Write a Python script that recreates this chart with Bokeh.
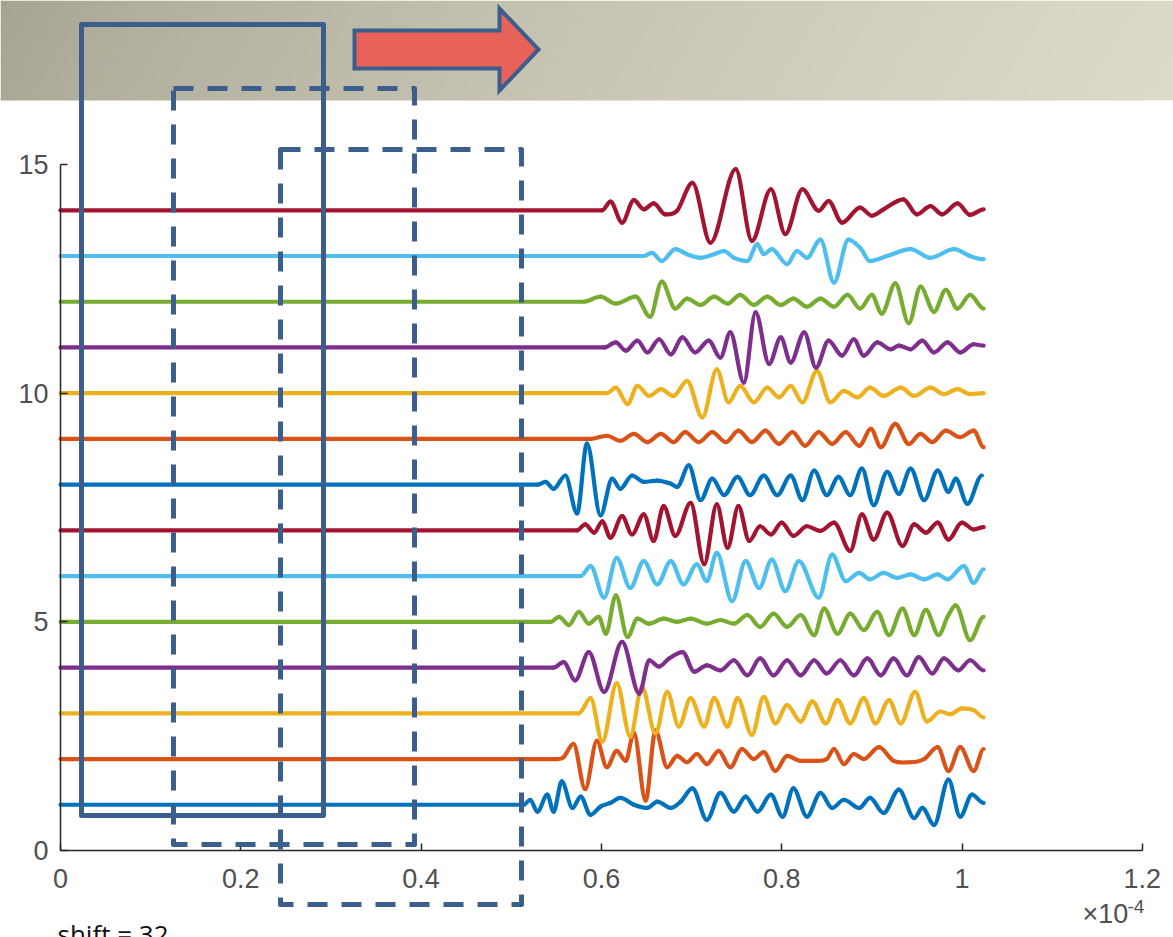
import numpy as np
from bokeh.plotting import figure
from bokeh.models import (Range1d, FixedTicker, BoxAnnotation, PolyAnnotation, Label,
                          ColumnDataSource)
from bokeh.embed import file_html
from bokeh.resources import INLINE

# ---------------------------------------------------------------------------
# Data: 14 shifted traces.  Time is in units of 1e-4 s (axis shows "x 10^-4"),
# amplitude is relative to each trace's baseline (trace k sits at y = k).
# Each trace is flat from t = 0 up to its first listed time.
# ---------------------------------------------------------------------------
t01 = [0.514, 0.521, 0.529, 0.540, 0.547, 0.556, 0.568, 0.577, 0.588, 0.599, 0.610, 0.621, 0.636, 0.651,
       0.662, 0.677, 0.688, 0.701, 0.717, 0.732, 0.747, 0.760, 0.773, 0.788, 0.801, 0.813, 0.828, 0.843,
       0.856, 0.869, 0.886, 0.898, 0.913, 0.930, 0.947, 0.956, 0.969, 0.985, 0.998, 1.011, 1.024]
a01 = [0, 0.11, -0.15, 0.22, -0.15, 0.51, -0.07, 0.18, -0.22, -0.04, 0.04, 0.15, 0, -0.07,
       0.07, -0.07, 0.07, 0.36, -0.33, 0.26, -0.15, 0.18, -0.15, 0.22, -0.26, 0.36, -0.26, 0.26,
       -0.07, 0.11, -0.07, 0.15, -0.18, 0.33, -0.29, -0.07, -0.44, 0.55, -0.26, 0.22, 0.04]

t02 = [0.551, 0.558, 0.569, 0.582, 0.595, 0.606, 0.617, 0.627, 0.636, 0.649, 0.660, 0.673, 0.684, 0.695,
       0.706, 0.717, 0.730, 0.743, 0.756, 0.769, 0.780, 0.793, 0.806, 0.821, 0.836, 0.850, 0.858, 0.869,
       0.880, 0.891, 0.908, 0.924, 0.943, 0.958, 0.973, 0.985, 0.998, 1.013, 1.024]
a02 = [0, 0.04, 0.33, -0.66, 0.40, -0.18, 0.18, -0.04, 0.58, -0.91, 0.62, -0.18, 0.07, -0.07,
       0.11, -0.11, 0.18, -0.18, 0.22, 0, 0.15, -0.26, 0.07, -0.04, -0.04, 0, 0.22, -0.11,
       0.11, 0, 0.26, -0.04, -0.07, 0, 0.26, -0.26, 0.26, -0.26, 0.22]

t03 = [0.575, 0.588, 0.601, 0.617, 0.632, 0.645, 0.660, 0.673, 0.686, 0.699, 0.714, 0.725, 0.740, 0.751,
       0.767, 0.780, 0.793, 0.806, 0.821, 0.834, 0.849, 0.862, 0.876, 0.891, 0.904, 0.919, 0.932, 0.948,
       0.961, 0.976, 0.987, 1.000, 1.013, 1.024]
a03 = [0, 0.33, -0.62, 0.66, -0.51, 0.58, -0.44, 0.47, -0.29, 0.33, -0.29, 0.33, -0.29, 0.33,
       -0.47, 0.36, -0.22, 0.18, -0.18, 0.26, -0.22, 0.29, -0.22, 0.33, -0.22, 0.29, -0.22, 0.47,
       -0.18, 0.04, -0.02, 0.11, 0.07, -0.09]

t04 = [0.547, 0.558, 0.571, 0.586, 0.603, 0.623, 0.642, 0.653, 0.664, 0.675, 0.690, 0.703, 0.717, 0.732,
       0.747, 0.762, 0.776, 0.791, 0.806, 0.821, 0.836, 0.850, 0.865, 0.880, 0.895, 0.910, 0.924, 0.939,
       0.952, 0.967, 0.980, 0.996, 1.009, 1.024]
a04 = [0, 0.12, -0.28, 0.34, -0.53, 0.56, -0.57, 0.16, 0.02, 0.20, 0.34, -0.09, 0.05, -0.06,
       0.16, -0.17, 0.20, -0.17, 0.16, -0.17, 0.16, -0.13, 0.16, -0.17, 0.20, -0.17, 0.20, -0.17,
       0.23, -0.13, 0.20, -0.06, 0.16, -0.06]

t05 = [0.544, 0.553, 0.564, 0.575, 0.586, 0.597, 0.605, 0.616, 0.629, 0.640, 0.653, 0.669, 0.684, 0.699,
       0.717, 0.732, 0.747, 0.762, 0.776, 0.791, 0.806, 0.821, 0.836, 0.847, 0.862, 0.876, 0.891, 0.906,
       0.919, 0.934, 0.947, 0.960, 0.974, 0.984, 0.993, 1.009, 1.024]
a05 = [0, 0.11, -0.07, 0.22, -0.04, 0.11, -0.26, 0.58, -0.33, 0.07, -0.04, 0.07, 0, 0.07,
       -0.04, 0.04, -0.04, 0.15, -0.11, 0.18, -0.11, 0.15, -0.29, 0.29, -0.26, 0.18, -0.18, 0.22,
       -0.29, 0.29, -0.29, 0.26, -0.29, 0.11, 0.36, -0.40, 0.11]

t06 = [0.577, 0.588, 0.603, 0.617, 0.632, 0.647, 0.662, 0.677, 0.691, 0.706, 0.717, 0.728, 0.745, 0.760,
       0.775, 0.789, 0.804, 0.819, 0.841, 0.856, 0.871, 0.886, 0.898, 0.913, 0.928, 0.943, 0.958, 0.973,
       0.984, 1.002, 1.013, 1.024]
a06 = [0, 0.22, -0.47, 0.40, -0.26, 0.33, -0.18, 0.33, -0.18, 0.26, -0.11, 0.51, -0.55, 0.33,
       -0.26, 0.36, -0.33, 0.33, -0.47, 0.47, -0.11, 0.07, -0.07, 0.07, -0.04, 0.04, -0.07, 0.04,
       -0.07, 0.22, -0.15, 0.15]

t07 = [0.573, 0.582, 0.592, 0.601, 0.610, 0.623, 0.634, 0.647, 0.658, 0.669, 0.682, 0.699, 0.714, 0.728,
       0.740, 0.752, 0.764, 0.776, 0.788, 0.800, 0.813, 0.828, 0.843, 0.858, 0.876, 0.889, 0.902, 0.917,
       0.934, 0.947, 0.960, 0.973, 0.985, 1.000, 1.013, 1.024]
a07 = [0, 0.13, -0.05, 0.20, -0.16, 0.31, -0.09, 0.35, -0.23, 0.53, -0.12, 0.60, -0.74, 0.57,
       -0.38, 0.53, -0.23, 0.09, -0.09, 0.17, -0.12, 0.09, -0.01, 0.17, -0.45, 0.35, -0.20, 0.39,
       -0.34, 0.13, -0.05, 0.17, -0.20, 0.17, 0.02, 0.07]

t08 = [0.529, 0.538, 0.547, 0.560, 0.573, 0.584, 0.599, 0.612, 0.621, 0.634, 0.647, 0.662, 0.677, 0.684,
       0.697, 0.710, 0.723, 0.736, 0.751, 0.765, 0.780, 0.795, 0.810, 0.823, 0.836, 0.850, 0.863, 0.876,
       0.889, 0.902, 0.917, 0.930, 0.943, 0.958, 0.973, 0.985, 0.993, 1.006, 1.022]
a08 = [0, 0.06, -0.09, 0.20, -0.63, 0.90, -0.67, 0.13, -0.09, 0.20, 0.06, 0.09, 0.02, -0.05,
       0.42, -0.34, 0.13, -0.23, 0.17, -0.23, 0.20, -0.23, 0.20, -0.34, 0.31, -0.23, 0.17, -0.23,
       0.35, -0.45, 0.28, -0.20, 0.35, -0.34, 0.31, -0.16, 0.13, -0.42, 0.20]

t09 = [0.588, 0.606, 0.621, 0.636, 0.651, 0.666, 0.680, 0.693, 0.708, 0.723, 0.738, 0.752, 0.767, 0.782,
       0.797, 0.812, 0.826, 0.841, 0.856, 0.871, 0.886, 0.899, 0.910, 0.926, 0.941, 0.954, 0.967, 0.982,
       0.998, 1.013, 1.024]
a09 = [0, 0.07, -0.04, 0.11, -0.07, 0.11, -0.07, 0.15, -0.07, 0.15, -0.07, 0.18, -0.07, 0.18,
       -0.11, 0.15, -0.15, 0.15, -0.11, 0.15, -0.15, 0.22, -0.18, 0.33, -0.11, 0.11, -0.07, 0.18,
       0.04, 0.18, -0.18]

t10 = [0.606, 0.616, 0.629, 0.640, 0.653, 0.666, 0.680, 0.695, 0.712, 0.728, 0.741, 0.754, 0.769, 0.784,
       0.797, 0.810, 0.823, 0.839, 0.854, 0.869, 0.884, 0.898, 0.913, 0.932, 0.947, 0.965, 0.980, 0.995,
       1.009, 1.024]
a10 = [0, 0.12, -0.24, 0.16, -0.06, 0.09, -0.06, 0.27, -0.53, 0.52, -0.20, 0.16, -0.20, 0.12,
       -0.09, 0.16, -0.20, 0.49, -0.20, 0.05, -0.09, 0.12, -0.06, 0.12, -0.06, 0.12, -0.02, 0.09,
       -0.02, 0]

t11 = [0.603, 0.616, 0.627, 0.640, 0.651, 0.664, 0.677, 0.690, 0.704, 0.719, 0.732, 0.743, 0.758, 0.771,
       0.786, 0.799, 0.810, 0.825, 0.838, 0.852, 0.867, 0.880, 0.891, 0.906, 0.921, 0.930, 0.943, 0.956,
       0.969, 0.984, 0.998, 1.013, 1.024]
a11 = [0, 0.11, -0.07, 0.15, -0.11, 0.18, -0.15, 0.22, -0.11, 0.15, -0.22, 0.33, -0.77, 0.77,
       -0.36, 0.22, -0.33, 0.33, -0.44, 0.15, -0.18, 0.18, -0.18, 0.11, -0.04, 0.04, -0.04, 0.15,
       -0.11, 0.11, -0.11, 0.07, 0.04]

t12 = [0.580, 0.599, 0.616, 0.638, 0.654, 0.667, 0.682, 0.695, 0.710, 0.725, 0.740, 0.754, 0.769, 0.784,
       0.799, 0.813, 0.828, 0.843, 0.858, 0.873, 0.887, 0.900, 0.911, 0.926, 0.941, 0.954, 0.969, 0.982,
       0.995, 1.009, 1.024]
a12 = [0, 0.11, -0.04, 0.11, -0.33, 0.44, -0.15, 0.07, -0.07, 0.11, -0.04, 0.15, -0.07, 0.11,
       -0.07, 0.07, -0.11, 0.07, -0.11, 0.15, -0.15, 0.15, -0.26, 0.40, -0.47, 0.33, -0.22, 0.26,
       -0.15, 0.15, -0.15]

t13 = [0.647, 0.656, 0.667, 0.682, 0.695, 0.710, 0.725, 0.736, 0.747, 0.762, 0.773, 0.780, 0.789, 0.806,
       0.817, 0.828, 0.843, 0.858, 0.874, 0.887, 0.898, 0.917, 0.943, 0.965, 0.991, 1.009, 1.024]
a13 = [0, 0.07, -0.11, 0.15, 0.04, -0.04, 0.04, 0.11, -0.04, -0.11, 0.26, 0.04, 0.15, -0.18,
       0.11, -0.04, 0.36, -0.58, 0.36, 0.18, -0.11, 0, 0.15, -0.04, 0.15, 0, -0.07]

t14 = [0.601, 0.610, 0.623, 0.636, 0.647, 0.658, 0.671, 0.684, 0.701, 0.721, 0.749, 0.767, 0.788, 0.804,
       0.823, 0.841, 0.852, 0.867, 0.887, 0.900, 0.913, 0.935, 0.950, 0.965, 0.978, 0.995, 1.009, 1.024]
a14 = [0, 0.19, -0.27, 0.22, 0.02, 0.15, -0.09, -0.01, 0.60, -0.71, 0.90, -0.67, 0.46, -0.52,
       0.46, -0.01, 0.20, -0.27, 0.06, -0.12, 0.02, 0.24, -0.09, 0.09, -0.09, 0.15, -0.10, 0.02]

trace_times = [t01, t02, t03, t04, t05, t06, t07, t08, t09, t10, t11, t12, t13, t14]
trace_amps = [a01, a02, a03, a04, a05, a06, a07, a08, a09, a10, a11, a12, a13, a14]

x_ticks = [0, 0.2, 0.4, 0.6, 0.8, 1, 1.2]
x_tick_labels = ["0", "0.2", "0.4", "0.6", "0.8", "1", "1.2"]
y_ticks = [0, 5, 10, 15]

# MATLAB default colour order, cycling
line_colors = ["#0072BD", "#D95319", "#EDB120", "#7E2F8E", "#77AC30", "#4DBEEE", "#A2142F"]

# ---------------------------------------------------------------------------
# Page geometry: the frame fills the whole page; axes sit at fixed data
# locations inside it.
# ---------------------------------------------------------------------------
W, H = 1173, 937
ORIGIN_X = 60        # page column of t = 0
ORIGIN_Y = 850       # page row of y = 0
PX_PER_X = 901.5     # pixels per 1e-4 s
PX_PER_Y = 45.73     # pixels per trace step


def cx(px):
    """page column -> data x"""
    return (px - ORIGIN_X) / PX_PER_X


def cy(py):
    """page row -> data y"""
    return (ORIGIN_Y - py) / PX_PER_Y


p = figure(width=W, height=H, output_backend="svg", toolbar_location=None, title=None,
           x_range=Range1d(cx(0), cx(W)), y_range=Range1d(cy(H), cy(0)),
           min_border=0, min_border_left=0, min_border_right=0, min_border_top=0,
           min_border_bottom=0,
           background_fill_color="white", border_fill_color="white",
           outline_line_color=None)
p.xgrid.visible = False
p.ygrid.visible = False

# ---- header band with a soft diagonal gradient -----------------------------
BAND_H = 100
c_dark = np.array([166, 162, 144], dtype=float)
c_light = np.array([223, 219, 202], dtype=float)


def band_color(px, py):
    s = np.clip((px + 0.6 * py) / (W + 60), 0, 1) ** 0.7
    return c_dark + (c_light - c_dark) * s[..., None]


bw, bh = (W + 1) // 2, BAND_H // 2
cols = (np.arange(bw) + 0.5) * W / bw
rows = BAND_H - (np.arange(bh) + 0.5) * BAND_H / bh     # row 0 of the image is the bottom
PX, PY = np.meshgrid(cols, rows)
rgb = band_color(PX, PY)
img = np.empty((bh, bw), dtype=np.uint32)
view = img.view(dtype=np.uint8).reshape((bh, bw, 4))
for ch in range(3):
    view[:, :, ch] = rgb[..., ch].astype(np.uint8)
view[:, :, 3] = 255
p.image_rgba(image=[img], x=cx(0), y=cy(BAND_H), dw=cx(W) - cx(0), dh=cy(0) - cy(BAND_H))


# ---- traces, drawn as smooth cubic pieces through the listed points --------
def bezier_pieces(xs, ys):
    n = len(xs)
    slope = []
    for i in range(n):
        if i == 0 or i == n - 1:
            m = 0.0
        else:
            d0 = ys[i] - ys[i - 1]
            d1 = ys[i + 1] - ys[i]
            m = 0.0 if d0 * d1 <= 0 else (ys[i + 1] - ys[i - 1]) / (xs[i + 1] - xs[i - 1])
        slope.append(m)
    out = dict(x0=[], y0=[], x1=[], y1=[], cx0=[], cy0=[], cx1=[], cy1=[])
    for i in range(n - 1):
        h = xs[i + 1] - xs[i]
        out["x0"].append(xs[i])
        out["y0"].append(ys[i])
        out["x1"].append(xs[i + 1])
        out["y1"].append(ys[i + 1])
        out["cx0"].append(xs[i] + h / 3)
        out["cy0"].append(ys[i] + slope[i] * h / 3)
        out["cx1"].append(xs[i + 1] - h / 3)
        out["cy1"].append(ys[i + 1] - slope[i + 1] * h / 3)
    return out


for k, (ts, amps) in enumerate(zip(trace_times, trace_amps), start=1):
    xs = [0] + list(ts)
    ys = [k] + [k + a for a in amps]
    src = ColumnDataSource(bezier_pieces(xs, ys))
    p.bezier(x0="x0", y0="y0", x1="x1", y1="y1", cx0="cx0", cy0="cy0", cx1="cx1", cy1="cy1",
             source=src, line_color=line_colors[(k - 1) % len(line_colors)], line_width=4.2,
             line_cap="round")

# ---- axes ------------------------------------------------------------------
AX_COLOR = "#262626"
LABEL_COLOR = "#505050"
p.xaxis.fixed_location = 0
p.yaxis.fixed_location = 0
p.xaxis.ticker = FixedTicker(ticks=x_ticks)
p.xaxis.major_label_overrides = {v: s for v, s in zip(x_ticks, x_tick_labels)}
p.xaxis.bounds = (x_ticks[0], x_ticks[-1])
p.yaxis.ticker = FixedTicker(ticks=y_ticks)
p.yaxis.bounds = (y_ticks[0], y_ticks[-1])
for ax in (p.xaxis, p.yaxis):
    ax.major_tick_in = 7
    ax.major_tick_out = 0
    ax.minor_tick_line_color = None
    ax.axis_line_color = AX_COLOR
    ax.axis_line_width = 1.5
    ax.major_tick_line_color = AX_COLOR
    ax.major_tick_line_width = 1.5
    ax.major_label_text_font = "Liberation Sans"
    ax.major_label_text_font_size = "27px"
    ax.major_label_text_color = LABEL_COLOR
p.xaxis.major_label_standoff = 18
p.yaxis.major_label_standoff = 12

# exponent note under the x axis
p.add_layout(Label(x=cx(1082), y=cy(928), text="×10", text_font="Liberation Sans",
                   text_font_size="27px", text_color=LABEL_COLOR))
p.add_layout(Label(x=cx(1127), y=cy(912), text="-4", text_font="Liberation Sans",
                   text_font_size="19px", text_color=LABEL_COLOR))

# ---- sliding-window boxes and direction arrow -----------------------------
BOX_BLUE = "#3B5E8C"
p.add_layout(BoxAnnotation(left=cx(81), right=cx(323), top=cy(24), bottom=cy(815),
                           fill_alpha=0, line_color=BOX_BLUE, line_alpha=1, line_width=5,
                           line_join="round"))
p.add_layout(BoxAnnotation(left=cx(173), right=cx(414), top=cy(88), bottom=cy(844),
                           fill_alpha=0, line_color=BOX_BLUE, line_alpha=1, line_width=5,
                           line_dash="20 14", line_join="round"))
p.add_layout(BoxAnnotation(left=cx(280), right=cx(521), top=cy(149), bottom=cy(904),
                           fill_alpha=0, line_color=BOX_BLUE, line_alpha=1, line_width=5,
                           line_dash="20 14", line_join="round"))

arrow_px = [354, 499, 499, 538, 499, 499, 354]
arrow_py = [30, 30, 8, 49, 90, 68, 68]
p.add_layout(PolyAnnotation(xs=[cx(v) for v in arrow_px], ys=[cy(v) for v in arrow_py],
                            fill_color="#E9625A", fill_alpha=1, line_color=BOX_BLUE,
                            line_alpha=1, line_width=4, line_join="miter"))

# caption, running past the bottom edge of the page
p.add_layout(Label(x=cx(57), y=cy(933), text="shift = 32", text_font="Open Sans",
                   text_font_size="26px", text_color="#111111", text_baseline="alphabetic"))

open("out.html", "w").write(file_html(p, INLINE))
